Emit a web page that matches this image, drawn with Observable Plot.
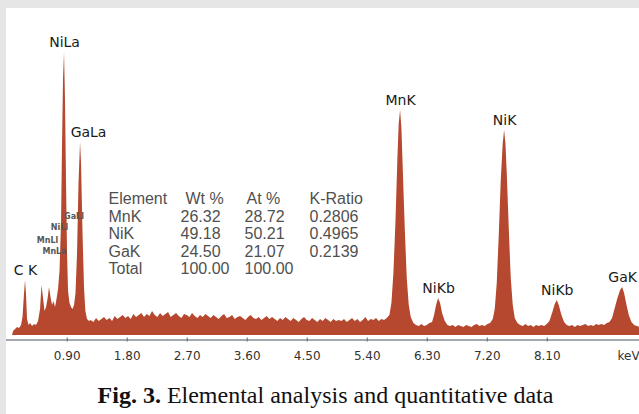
<!DOCTYPE html>
<html>
<head>
<meta charset="utf-8">
<script src="https://cdn.jsdelivr.net/npm/d3@7"></script>
<script src="https://cdn.jsdelivr.net/npm/@observablehq/plot@0.6"></script>
<style>
  html, body { margin: 0; padding: 0; }
  body { background: #e6e6e6; width: 639px; height: 414px; position: relative; overflow: hidden; }
  #panel { position: absolute; left: 6px; top: 8px; width: 633px; height: 406px; background: #fff; }
  #chart { position: absolute; left: 0; top: 0; }
  #caption { position: absolute; left: 0; top: 373px; width: 633px; height: 28px; line-height: 28px;
    text-align: center; padding-left: 6px; box-sizing: border-box;
    font-family: "Liberation Serif", "Times New Roman", serif; font-size: 24px; color: #111; white-space: nowrap; }
</style>
</head>
<body>
<div id="panel">
  <div id="chart"></div>
  <div id="caption"><b>Fig. 3.</b> Elemental analysis and quantitative data</div>
</div>
<script>
// ---- Data (counts in arbitrary units) ----
// Low-energy region: C K, O/Mn L, Ni L, Ga L lines  [keV, counts]
const lowEnergyRegion = [
  [0.08,0],[0.095,4],[0.125,6],[0.155,8],[0.185,7],[0.215,10],[0.237,18],[0.26,42],[0.275,55],[0.29,40],
  [0.305,16],[0.327,10],[0.35,12],[0.38,9],[0.41,11],[0.44,10],[0.47,14],[0.50,26],[0.522,50],[0.545,37],
  [0.567,24],[0.59,28],[0.612,36],[0.635,48],[0.657,38],[0.68,30],[0.70,34],[0.725,28],[0.747,36],[0.77,46],
  [0.792,64],[0.815,112],[0.83,192],[0.845,257],[0.86,283],[0.875,232],[0.89,152],[0.905,82],[0.92,44],
  [0.942,32],[0.965,28],[0.987,26],[1.01,30],[1.032,42],[1.055,82],[1.077,152],[1.10,193],[1.115,172],
  [1.137,102],[1.16,47],[1.18,24],[1.205,16],[1.235,14]
];
// Bremsstrahlung background channels 1.26 .. 5.70 keV, 0.04 keV apart
const bgStart = 1.26, bgStep = 0.04;
const bgCounts = [
  15,13,17,14,16,18,15,17,14,19,16,18,20,17,19,16,21,18,20,
  22,18,21,19,24,20,18,22,19,21,23,18,20,22,19,17,21,20,18,22,19,17,20,18,21,
  19,17,20,18,16,19,21,17,18,20,16,18,19,17,15,18,20,17,16,18,15,17,19,16,18,
  16,14,17,15,18,16,14,17,15,13,16,18,15,14,17,15,13,16,14,17,15,13,16,14,15,
  14,16,13,15,17,14,16,13,15,18,14,16,15,17,14,16,15,17
];
// K-line region: MnK, NiKb, NiK, NiKb, GaK  [keV, counts]
const kLineRegion = [
  [5.74,20],[5.77,32],[5.80,62],[5.83,112],[5.86,177],[5.88,212],[5.90,225],[5.92,207],[5.94,167],[5.97,107],
  [6.00,57],[6.03,30],[6.06,18],[6.10,12],[6.14,10],[6.18,9],[6.22,11],[6.26,9],[6.30,10],[6.34,12],
  [6.38,13],[6.41,20],[6.44,30],[6.47,37],[6.50,32],[6.53,22],[6.57,14],[6.61,10],
  [6.65,9],[6.69,10],[6.73,8],[6.77,10],[6.81,9],[6.85,8],[6.89,10],[6.93,9],[6.97,8],[7.01,10],[7.05,11],
  [7.09,9],[7.13,10],[7.17,9],[7.21,11],[7.25,12],[7.29,16],
  [7.32,26],[7.35,52],[7.38,100],[7.41,155],[7.44,192],[7.46,205],[7.48,192],[7.50,162],[7.53,107],[7.56,57],
  [7.59,30],[7.62,17],[7.66,12],
  [7.70,10],[7.74,9],[7.78,11],[7.82,9],[7.86,10],[7.90,8],[7.94,10],[7.98,9],[8.02,10],[8.06,9],[8.10,11],[8.14,14],
  [8.18,22],[8.22,31],[8.25,35],[8.28,30],[8.32,20],[8.36,13],[8.40,10],
  [8.44,9],[8.48,10],[8.52,8],[8.56,10],[8.60,9],[8.64,10],[8.68,11],[8.72,9],[8.76,10],[8.80,9],[8.84,11],
  [8.88,10],[8.92,11],[8.96,10],[9.00,12],[9.04,13],
  [9.08,17],[9.12,27],[9.16,37],[9.20,45],[9.23,48],[9.26,42],[9.29,32],[9.33,20],[9.37,13],[9.41,10],[9.45,9],[9.50,8]
];
// Peak identifications
const peakNames    = ["C K", "NiLa", "GaLa", "MnK", "NiKb", "NiK", "NiKb", "GaK"];
const peakEnergies = [0.275, 0.86, 1.10, 5.90, 6.47, 7.46, 8.25, 9.23];
const minorLines   = ["GaLl", "NiLl", "MnLl", "MnLa"];
// Axis ticks
const tickValues = [0.90, 1.80, 2.70, 3.60, 4.50, 5.40, 6.30, 7.20, 8.10];
const axisUnit = "keV";
// Quantitative table
const tableHeader = ["Element", "Wt %", "At %", "K-Ratio"];
const elements = ["MnK", "NiK", "GaK", "Total"];
const wtPct    = ["26.32", "49.18", "24.50", "100.00"];
const atPct    = ["28.72", "50.21", "21.07", "100.00"];
const kRatio   = ["0.2806", "0.4965", "0.2139", ""];

// ---- Build table for Plot ----
const spectrum = [
  ...lowEnergyRegion.map(([keV, count]) => ({keV, count})),
  ...bgCounts.map((count, i) => ({keV: bgStart + i * bgStep, count})),
  ...kLineRegion.map(([keV, count]) => ({keV, count}))
].sort((a, b) => a.keV - b.keV);

const peaks = peakNames.map((name, i) => {
  const e = peakEnergies[i];
  const near = spectrum.filter(d => Math.abs(d.keV - e) <= 0.02);
  return {name, keV: e, count: d3.max(near, d => d.count)};
});

const red = "#b5482e";
const sans = "DejaVu Sans, Verdana, sans-serif";
const arial = "Liberation Sans, Arial, sans-serif";

// text placed in frame pixel coordinates
const note = (text, x, y, o = {}) => Plot.text([text], {
  frameAnchor: "top-left", dx: x, dy: y, text: d => d, lineAnchor: "bottom", ...o
});

const colX = [[102, 102], [179, 174], [240, 238], [303, 303]]; // [header x, value x]
const rowY = i => 195.5 + 17.5 * i;
const columns = [elements, wtPct, atPct, kRatio];
const tableMarks = [];
tableHeader.forEach((h, c) => {
  tableMarks.push(note(h, colX[c][0], rowY(0), {textAnchor: "start", fontFamily: arial, fontSize: 16, fill: "#505050"}));
  columns[c].forEach((v, r) => {
    if (v) tableMarks.push(note(v, colX[c][1], rowY(r + 1), {textAnchor: "start", fontFamily: arial, fontSize: 16, fill: "#505050"}));
  });
});

const minorPos = [[67.5, 210], [53, 221], [41, 234], [48, 245]];
const minorMarks = minorLines.map((t, i) =>
  note(t, minorPos[i][0], minorPos[i][1], {textAnchor: "middle", fontFamily: sans, fontWeight: "bold", fontSize: 8, fill: "#555"}));

const chart = Plot.plot({
  width: 633,
  height: 365,
  marginTop: 0, marginRight: 0, marginBottom: 0, marginLeft: 0,
  x: {domain: [0, 9.5], range: [0.7, 634.1], axis: null},
  y: {domain: [0, 300], range: [327, 27], axis: null},
  style: {background: "white", overflow: "visible"},
  marks: [
    Plot.areaY(spectrum, {x: "keV", y: "count", fill: red, curve: "linear"}),
    Plot.ruleY([-4.5], {stroke: "#868b95", strokeWidth: 1.6}),
    Plot.ruleX(tickValues, {x: d => d, y1: -2.5, y2: -6.5, stroke: "#666", strokeWidth: 1}),
    Plot.text(tickValues, {x: d => d, y: -24, text: d => d.toFixed(2), lineAnchor: "bottom",
      fontFamily: sans, fontSize: 12, fill: "#333"}),
    Plot.text([axisUnit], {x: 9.32, y: -24, text: d => d, lineAnchor: "bottom",
      fontFamily: sans, fontSize: 12, fill: "#333"}),
    Plot.text(peaks, {x: "keV", y: "count", text: "name", lineAnchor: "bottom", dy: -6,
      fontFamily: sans, fontSize: 14, fill: "#1a1a1a"}),
    ...tableMarks,
    ...minorMarks
  ]
});
// GaLa label sits slightly right of its peak
d3.select(chart).selectAll("text").filter(function () { return this.textContent === "GaLa"; })
  .attr("transform", function () { return (d3.select(this).attr("transform") || "") + " translate(8,0)"; });

document.getElementById("chart").appendChild(chart);
</script>
</body>
</html>
